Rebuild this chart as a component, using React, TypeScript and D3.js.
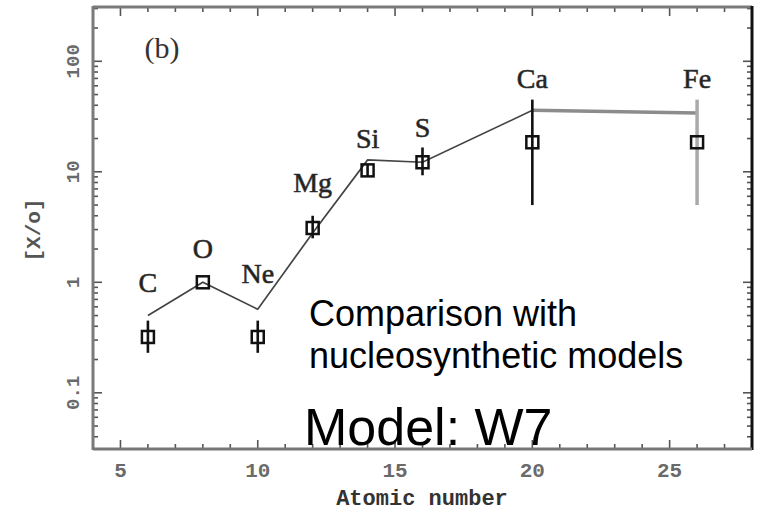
import React from "react";
import * as d3 from "d3";

const elements = ["C", "O", "Ne", "Mg", "Si", "S", "Ca", "Fe"];
const atomicNumbers = [6, 8, 10, 12, 14, 16, 20, 26];
const observed = [0.32, 1.0, 0.32, 3.1, 10.3, 12.2, 18.5, 18.5];
const errLow = [0.23, 1.0, 0.23, 2.5, 9.0, 9.3, 5.0, 5.0];
const errHigh = [0.45, 1.0, 0.45, 4.0, 11.5, 16.6, 45, 45];
const model = [0.5, 1.0, 0.57, 2.8, 12.8, 12.2, 36, 34];
const labelY = [0.817, 1.66, 0.985, 6.57, 16.4, 20.6, 57.4, 57.4];

const xTickLabels = [5, 10, 15, 20, 25];
const yTickLabels = [0.1, 1, 10, 100];
const xDomain = [4, 28];
const yDomain = [0.031, 310];

const W = 770;
const H = 531;
const L = 93, R = 752, T = 7, B = 449;

export default function App() {
  const x = d3.scaleLinear().domain(xDomain).range([L, R]);
  const y = d3.scaleLog().domain(yDomain).range([B, T]);

  const xMinor = d3.range(5, 28);
  const yMinor: number[] = [];
  for (let e = -2; e <= 2; e++) {
    for (let m = 1; m <= 9; m++) {
      const v = m * Math.pow(10, e);
      if (v >= yDomain[0] && v <= yDomain[1]) yMinor.push(v);
    }
  }

  const pts = atomicNumbers.map((z, i) => ({ z, m: model[i] }));
  const line = d3
    .line<{ z: number; m: number }>()
    .x((d) => x(d.z))
    .y((d) => y(d.m));

  const sq = 12;
  const monoFont = "'Liberation Mono', 'DejaVu Sans Mono', monospace";
  const serif = "'Liberation Serif', 'DejaVu Serif', serif";
  const sans = "'Liberation Sans', Arial, sans-serif";

  return (
    <svg
      width={W}
      height={H}
      style={{ position: "absolute", left: 0, top: 0, background: "#fff" }}
    >
      <rect x={0} y={0} width={W} height={H} fill="#fff" />
      {/* x ticks */}
      {xMinor.map((v) => {
        const len = v % 5 === 0 ? 9 : 5;
        return (
          <g key={"xt" + v} stroke="#555" strokeWidth={1.6}>
            <line x1={x(v)} x2={x(v)} y1={B} y2={B - len} />
            <line x1={x(v)} x2={x(v)} y1={T} y2={T + len} />
          </g>
        );
      })}
      {/* y ticks */}
      {yMinor.map((v, i) => {
        const isMajor = Math.abs(Math.log10(v) - Math.round(Math.log10(v))) < 1e-9;
        const len = isMajor ? 9 : 5;
        return (
          <g key={"yt" + i} stroke="#555" strokeWidth={1.6}>
            <line x1={L} x2={L + len} y1={y(v)} y2={y(v)} />
            <line x1={R} x2={R - len} y1={y(v)} y2={y(v)} />
          </g>
        );
      })}
      {/* frame */}
      <line x1={L} x2={L} y1={T - 1} y2={B + 1} stroke="#7a7a7a" strokeWidth={3} />
      <line x1={L} x2={R} y1={T} y2={T} stroke="#7a7a7a" strokeWidth={3} />
      <line x1={R} x2={R} y1={T - 1} y2={B + 1} stroke="#111" strokeWidth={3} />
      <line x1={L} x2={R} y1={B} y2={B} stroke="#777" strokeWidth={3} />

      {/* tick labels */}
      {xTickLabels.map((v) => (
        <text
          key={"xl" + v}
          x={x(v)}
          y={477}
          textAnchor="middle"
          fontFamily={monoFont}
          fontWeight="bold"
          fontSize={21}
          fill="#6a6a6a"
        >
          {v}
        </text>
      ))}
      {yTickLabels.map((v) => (
        <text
          key={"yl" + v}
          transform={`translate(79,${y(v)}) rotate(-90)`}
          textAnchor="middle"
          fontFamily={monoFont}
          fontWeight="bold"
          fontSize={19}
          fill="#6a6a6a"
        >
          {v}
        </text>
      ))}
      <text
        x={422}
        y={505}
        textAnchor="middle"
        fontFamily={monoFont}
        fontWeight="bold"
        fontSize={22}
        fill="#333"
      >
        Atomic number
      </text>
      <text
        transform={`translate(40,230) rotate(-90)`}
        textAnchor="middle"
        fontFamily={monoFont}
        fontWeight="bold"
        fontSize={21}
        fill="#555"
      >
        [X/o]
      </text>
      <text x={162} y={58} textAnchor="middle" fontFamily={serif} fontSize={30} fill="#333">
        (b)
      </text>

      {/* model line */}
      <path d={line(pts) || ""} fill="none" stroke="#444" strokeWidth={1.7} />
      <path
        d={line(pts.slice(6, 8)) || ""}
        fill="none"
        stroke="#8c8c8c"
        strokeWidth={3.5}
      />

      {/* error bars */}
      {atomicNumbers.map((z, i) =>
        errHigh[i] > errLow[i] ? (
          <line
            key={"eb" + i}
            x1={x(z)}
            x2={x(z)}
            y1={y(errLow[i])}
            y2={y(errHigh[i])}
            stroke={elements[i] === "Fe" ? "#aaa" : "#111"}
            strokeWidth={elements[i] === "Fe" ? 3.5 : 2.6}
          />
        ) : null
      )}
      {/* squares */}
      {atomicNumbers.map((z, i) => (
        <rect
          key={"sq" + i}
          x={x(z) - sq / 2}
          y={y(observed[i]) - sq / 2}
          width={sq}
          height={sq}
          fill="none"
          stroke="#111"
          strokeWidth={2.5}
        />
      ))}
      {/* element labels */}
      {atomicNumbers.map((z, i) => (
        <text
          key={"el" + i}
          x={x(z)}
          y={y(labelY[i])}
          textAnchor="middle"
          fontFamily={serif}
          fontSize={28}
          fill="#222"
          stroke="#333"
          strokeWidth={0.6}
        >
          {elements[i]}
        </text>
      ))}

      {/* overlay annotation */}
      <text x={309} y={326} fontFamily={sans} fontSize={36} fill="#000">
        Comparison with
      </text>
      <text x={309} y={368} fontFamily={sans} fontSize={36} fill="#000">
        nucleosynthetic models
      </text>
      <text x={304} y={445} fontFamily={sans} fontSize={52} fill="#000">
        Model: W7
      </text>
    </svg>
  );
}
